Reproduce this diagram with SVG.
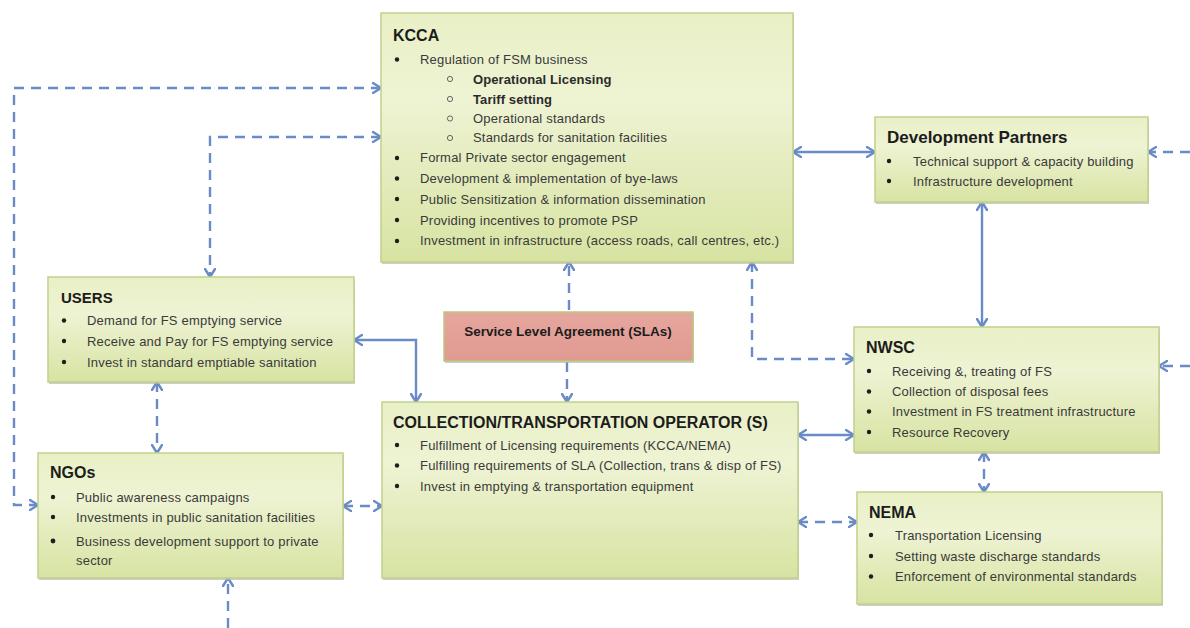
<svg xmlns="http://www.w3.org/2000/svg" width="1190" height="628" viewBox="0 0 1190 628">
<defs>
<linearGradient id="gbox" x1="0" y1="0" x2="0" y2="1">
<stop offset="0" stop-color="#e9f0c6"/>
<stop offset="0.35" stop-color="#eef3d3"/>
<stop offset="1" stop-color="#d7e3a2"/>
</linearGradient>
<linearGradient id="gsla" x1="0" y1="0" x2="0" y2="1">
<stop offset="0" stop-color="#e6a69e"/>
<stop offset="1" stop-color="#e09a91"/>
</linearGradient>
<marker id="ah" viewBox="0 0 10 12" refX="9" refY="6" markerWidth="10" markerHeight="12" markerUnits="userSpaceOnUse" orient="auto-start-reverse">
<path d="M1,1 L9,6 L1,11" fill="none" stroke="#6a8bc6" stroke-width="2.4" stroke-linecap="round" stroke-linejoin="round"/>
</marker>
</defs>
<style>
.box{fill:url(#gbox);stroke:#bfd28a;stroke-width:1.5}
.shadow{fill:#bdb5b5;opacity:0.7}
.sla{fill:url(#gsla);stroke:#b9c97f;stroke-width:1.5}
.t{font-family:"Liberation Sans",Arial,sans-serif;font-weight:bold;fill:#1c1c1c}
.b{font-family:"Liberation Sans",Arial,sans-serif;font-size:13px;letter-spacing:0.2px;fill:#3a3a3a}
.bb{font-family:"Liberation Sans",Arial,sans-serif;font-size:13px;letter-spacing:0.1px;font-weight:bold;fill:#2a2a2a}
.dot{fill:#1e1e1e}
.odot{fill:none;stroke:#555;stroke-width:0.9}
.c{fill:none;stroke:#6a8bc6;stroke-width:2.4;marker-start:url(#ah);marker-end:url(#ah)}
.c1{fill:none;stroke:#6a8bc6;stroke-width:2.4;marker-end:url(#ah)}
.d{stroke-dasharray:10 7}
</style>

<g id="connectors">
<path class="c d" d="M381,88 H14 V505 H38"/>
<path class="c d" d="M381,137 H210 V277"/>
<path class="c" d="M793,152 H875"/>
<path class="c1 d" d="M1190,152 H1148"/>
<path class="c" d="M982,202 V327"/>
<path class="c1 d" d="M1190,366 H1159"/>
<path class="c d" d="M752,262 V359 H854"/>
<path class="c1 d" d="M569,310 V262"/>
<path class="c1 d" d="M567,362 V402"/>
<path class="c" d="M354,340 H416 V402"/>
<path class="c d" d="M157,382 V453"/>
<path class="c d" d="M343,506 H382"/>
<path class="c1 d" d="M228,628 V578"/>
<path class="c" d="M798,435 H854"/>
<path class="c d" d="M798,522 H857"/>
<path class="c d" d="M984,452 V492"/>
</g>

<g id="kcca">
<rect class="shadow" x="382" y="15" width="412" height="249"/>
<rect class="box" x="381" y="13" width="412" height="249"/>
<text class="t" x="393" y="41" font-size="16">KCCA</text>
<circle class="dot" cx="397" cy="59.5" r="2.2"/>
<text class="b" x="420" y="64">Regulation of FSM business</text>
<circle class="odot" cx="450" cy="79" r="2.6"/>
<text class="bb" x="473" y="83.5">Operational Licensing</text>
<circle class="odot" cx="450" cy="99" r="2.6"/>
<text class="bb" x="473" y="103.5">Tariff setting</text>
<circle class="odot" cx="450" cy="118.5" r="2.6"/>
<text class="b" x="473" y="123">Operational standards</text>
<circle class="odot" cx="450" cy="138" r="2.6"/>
<text class="b" x="473" y="142">Standards for sanitation facilities</text>
<circle class="dot" cx="397" cy="158" r="2.2"/>
<text class="b" x="420" y="162">Formal Private sector engagement</text>
<circle class="dot" cx="397" cy="178.5" r="2.2"/>
<text class="b" x="420" y="183">Development &amp; implementation of bye-laws</text>
<circle class="dot" cx="397" cy="199" r="2.2"/>
<text class="b" x="420" y="203.5">Public Sensitization &amp; information dissemination</text>
<circle class="dot" cx="397" cy="220" r="2.2"/>
<text class="b" x="420" y="224.5">Providing incentives to promote PSP</text>
<circle class="dot" cx="397" cy="241" r="2.2"/>
<text class="b" x="420" y="245">Investment in infrastructure (access roads, call centres, etc.)</text>
</g>

<g id="dev-partners">
<rect class="shadow" x="876" y="119" width="273" height="85"/>
<rect class="box" x="875" y="117" width="273" height="85"/>
<text class="t" x="887" y="143" font-size="17">Development Partners</text>
<circle class="dot" cx="889" cy="161" r="2.2"/>
<text class="b" x="913" y="165.5">Technical support &amp; capacity building</text>
<circle class="dot" cx="889" cy="181" r="2.2"/>
<text class="b" x="913" y="185.5">Infrastructure development</text>
</g>

<g id="users">
<rect class="shadow" x="49" y="279" width="306" height="105"/>
<rect class="box" x="48" y="277" width="306" height="105"/>
<text class="t" x="61" y="303" font-size="15">USERS</text>
<circle class="dot" cx="64" cy="320.5" r="2.2"/>
<text class="b" x="87" y="325">Demand for FS emptying service</text>
<circle class="dot" cx="64" cy="341" r="2.2"/>
<text class="b" x="87" y="345.5">Receive and Pay for FS emptying service</text>
<circle class="dot" cx="64" cy="362" r="2.2"/>
<text class="b" x="87" y="366.5">Invest in standard emptiable sanitation</text>
</g>

<g id="sla">
<rect class="shadow" x="445" y="314" width="249" height="49"/>
<rect class="sla" x="444" y="312" width="249" height="49"/>
<text class="t" x="568" y="336" font-size="13.5" text-anchor="middle">Service Level Agreement (SLAs)</text>
</g>

<g id="nwsc">
<rect class="shadow" x="855" y="329" width="305" height="125"/>
<rect class="box" x="854" y="327" width="305" height="125"/>
<text class="t" x="866" y="353" font-size="16">NWSC</text>
<circle class="dot" cx="869" cy="371" r="2.2"/>
<text class="b" x="892" y="375.5">Receiving &amp;, treating of FS</text>
<circle class="dot" cx="869" cy="391.5" r="2.2"/>
<text class="b" x="892" y="396">Collection of disposal fees</text>
<circle class="dot" cx="869" cy="411.5" r="2.2"/>
<text class="b" x="892" y="416">Investment in FS treatment infrastructure</text>
<circle class="dot" cx="869" cy="432" r="2.2"/>
<text class="b" x="892" y="436.5">Resource Recovery</text>
</g>

<g id="collection">
<rect class="shadow" x="383" y="404" width="416" height="176"/>
<rect class="box" x="382" y="402" width="416" height="176"/>
<text class="t" x="393" y="428" font-size="16">COLLECTION/TRANSPORTATION OPERATOR (S)</text>
<circle class="dot" cx="397" cy="445" r="2.2"/>
<text class="b" x="420" y="449.5">Fulfillment of Licensing requirements (KCCA/NEMA)</text>
<circle class="dot" cx="397" cy="465.5" r="2.2"/>
<text class="b" x="420" y="470">Fulfilling requirements of SLA (Collection, trans &amp; disp of FS)</text>
<circle class="dot" cx="397" cy="486" r="2.2"/>
<text class="b" x="420" y="490.5">Invest in emptying &amp; transportation equipment</text>
</g>

<g id="ngos">
<rect class="shadow" x="39" y="455" width="305" height="125"/>
<rect class="box" x="38" y="453" width="305" height="125"/>
<text class="t" x="50" y="478" font-size="16">NGOs</text>
<circle class="dot" cx="53" cy="497" r="2.2"/>
<text class="b" x="76" y="501.5">Public awareness campaigns</text>
<circle class="dot" cx="53" cy="517" r="2.2"/>
<text class="b" x="76" y="521.5">Investments in public sanitation facilities</text>
<circle class="dot" cx="53" cy="541" r="2.4"/>
<text class="b" x="76" y="545.5">Business development support to private</text>
<text class="b" x="76" y="565">sector</text>
</g>

<g id="nema">
<rect class="shadow" x="858" y="494" width="305" height="112"/>
<rect class="box" x="857" y="492" width="305" height="112"/>
<text class="t" x="869" y="518" font-size="16">NEMA</text>
<circle class="dot" cx="871" cy="535" r="2.2"/>
<text class="b" x="895" y="539.5">Transportation Licensing</text>
<circle class="dot" cx="871" cy="556" r="2.2"/>
<text class="b" x="895" y="560.5">Setting waste discharge standards</text>
<circle class="dot" cx="871" cy="576.5" r="2.2"/>
<text class="b" x="895" y="581">Enforcement of environmental standards</text>
</g>
</svg>
